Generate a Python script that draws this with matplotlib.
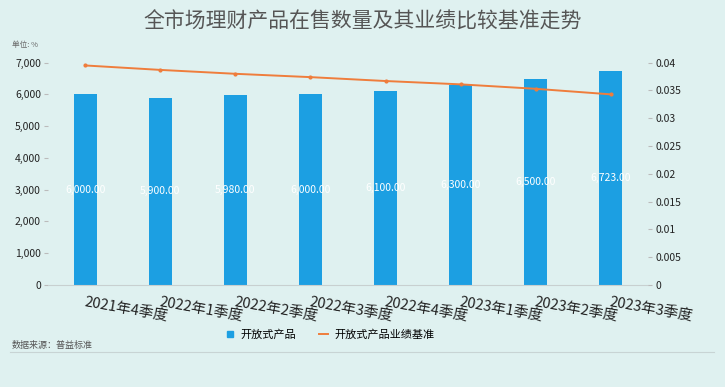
import numpy as np
import matplotlib.pyplot as plt
from matplotlib.lines import Line2D

plt.rcParams['font.family'] = ['Noto Sans CJK SC', 'DejaVu Sans']
plt.rcParams['axes.unicode_minus'] = False

# 数据
quarters = ['2021年4季度', '2022年1季度', '2022年2季度', '2022年3季度',
            '2022年4季度', '2023年1季度', '2023年2季度', '2023年3季度']
open_counts = [6000, 5900, 5980, 6000, 6100, 6300, 6500, 6723]
open_bench = [0.0395, 0.0387, 0.0380, 0.0374, 0.0367, 0.0361, 0.0353, 0.0343]

bg = '#dff1f0'
bar_c = '#1c9fe2'
line_c = '#ef7d3c'

fig = plt.figure(figsize=(7.25, 3.87), dpi=100, facecolor=bg)
ax = fig.add_axes([0.066, 0.264, 0.828, 0.574])
ax.set_facecolor(bg)
x = np.arange(len(quarters))
ax.bar(x, open_counts, width=0.31, color=bar_c, label='开放式产品', zorder=2)
for xi, v in zip(x, open_counts):
    ax.text(xi, v / 2, '{:,.2f}'.format(v), color='white', ha='center', va='center',
            fontsize=7.5, zorder=3)

ax.set_xlim(-0.5, len(quarters) - 0.5)
ax.set_ylim(0, 7000)
ax.set_yticks(np.arange(0, 7001, 1000))
ax.set_yticklabels(['{:,}'.format(v) for v in range(0, 7001, 1000)], fontsize=7.5, color='#222222')
ax.set_xticks(x)
ax.set_xticklabels(quarters, rotation=-10, ha='left', rotation_mode='anchor',
                   fontsize=10.5, color='#222222')
ax.tick_params(axis='x', length=0, pad=8)
ax.tick_params(axis='y', length=3, color='#bbbbbb', pad=2)
for s in ['top', 'right', 'left']:
    ax.spines[s].set_visible(False)
ax.spines['bottom'].set_color('#c8d0d0')

ax2 = ax.twinx()
ax2.plot(x, open_bench, color=line_c, lw=1.4, marker='o', ms=2, label='开放式产品业绩基准', zorder=4)
ax2.set_ylim(0, 0.04)
ax2.set_yticks([0, 0.005, 0.01, 0.015, 0.02, 0.025, 0.03, 0.035, 0.04])
ax2.set_yticklabels(['0', '0.005', '0.01', '0.015', '0.02', '0.025', '0.03', '0.035', '0.04'],
                    fontsize=7.5, color='#222222')
ax2.tick_params(axis='y', length=3, color='#bbbbbb', pad=2)
for s in ax2.spines.values():
    s.set_visible(False)

fig.text(0.5, 0.945, '全市场理财产品在售数量及其业绩比较基准走势', ha='center', va='center',
         fontsize=15, color='#555555', fontweight='medium')
fig.text(0.016, 0.885, '单位: %', fontsize=5.5, color='#666666', va='center')
fig.text(0.016, 0.108, '数据来源：普益标准', fontsize=6.5, color='#555555', va='center')
fig.add_artist(Line2D([0.014, 0.985], [0.09, 0.09], color='#c8d4d4', lw=0.8))

handles = [Line2D([], [], marker='s', color=bar_c, ls='', ms=4),
           Line2D([], [], color=line_c, lw=1.4)]
fig.legend(handles, ['开放式产品', '开放式产品业绩基准'], loc='center', bbox_to_anchor=(0.455, 0.135),
           ncol=2, frameon=False, fontsize=8, handlelength=0.8, columnspacing=2, handletextpad=0.6)

fig.savefig('out.png', dpi=100, facecolor=bg)
